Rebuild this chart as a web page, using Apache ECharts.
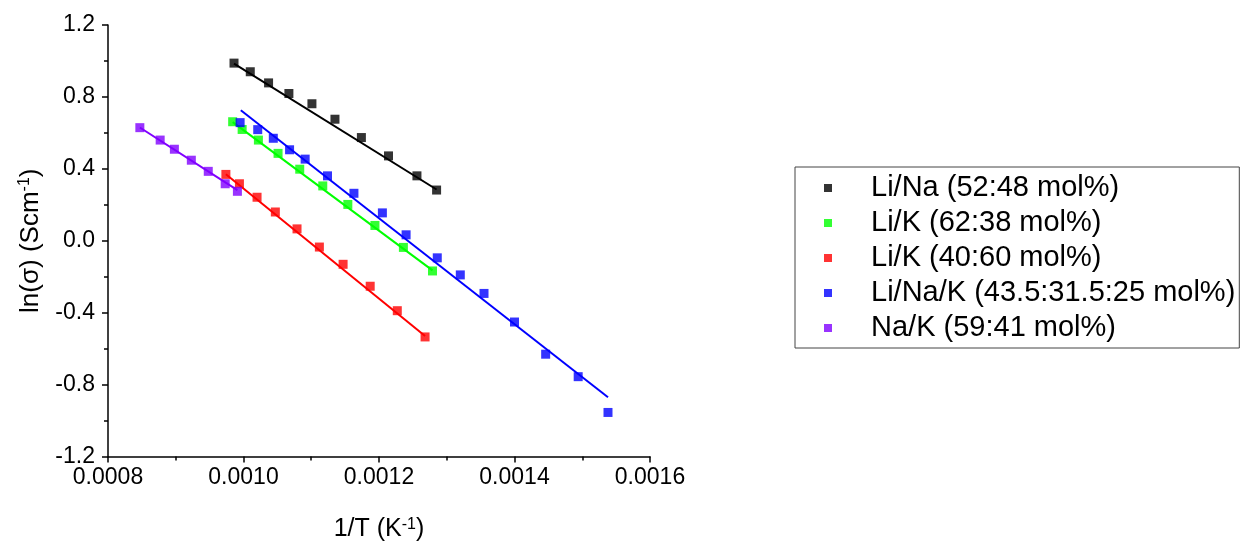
<!DOCTYPE html>
<html>
<head>
<meta charset="utf-8">
<script src="https://cdn.jsdelivr.net/npm/echarts@6/dist/echarts.min.js"></script>
<style>html,body{margin:0;padding:0;background:#fff}#c{width:1240px;height:547px}</style>
</head>
<body>
<div id="c"></div>
<script>
// Series names
const names = ['Li/Na (52:48 mol%)', 'Li/K (62:38 mol%)', 'Li/K (40:60 mol%)', 'Li/Na/K (43.5:31.5:25 mol%)', 'Na/K (59:41 mol%)'];
const colors = ['#000000', '#00ff00', '#ff0000', '#0000ff', '#8000ff'];

// Measured points: [1/T (K^-1), ln(sigma)]
const liNa = [[0.000986,0.988],[0.001010,0.940],[0.001037,0.878],[0.001067,0.819],[0.001101,0.762],[0.001135,0.676],[0.001174,0.574],[0.001214,0.472],[0.001256,0.361],[0.001285,0.282]];
const liK62 = [[0.000984,0.662],[0.000998,0.619],[0.001022,0.560],[0.001051,0.486],[0.001083,0.398],[0.001117,0.305],[0.001154,0.202],[0.001194,0.085],[0.001236,-0.037],[0.001279,-0.168]];
const liK40 = [[0.000974,0.369],[0.000994,0.317],[0.001020,0.242],[0.001047,0.160],[0.001079,0.066],[0.001112,-0.035],[0.001147,-0.131],[0.001187,-0.253],[0.001227,-0.389],[0.001268,-0.535]];
const liNaK = [[0.000995,0.657],[0.001021,0.618],[0.001044,0.570],[0.001068,0.506],[0.001091,0.454],[0.001124,0.361],[0.001163,0.264],[0.001205,0.155],[0.001240,0.033],[0.001286,-0.095],[0.001320,-0.190],[0.001355,-0.293],[0.001400,-0.452],[0.001446,-0.631],[0.001494,-0.756],[0.001538,-0.955]];
const naK = [[0.000847,0.629],[0.000877,0.560],[0.000898,0.509],[0.000923,0.448],[0.000948,0.386],[0.000973,0.317],[0.000991,0.275]];

// Linear-fit lines (endpoints)
const fitLiNa = [[0.000986,0.985],[0.001285,0.285]];
const fitLiK62 = [[0.000984,0.660],[0.001279,-0.165]];
const fitLiK40 = [[0.000974,0.370],[0.001268,-0.530]];
const fitLiNaK = [[0.000996,0.726],[0.001538,-0.870]];
const fitNaK = [[0.000847,0.630],[0.000991,0.282]];

// Axis ticks
const xTicks = [0.0008, 0.0010, 0.0012, 0.0014, 0.0016];
const yTicks = [-1.2, -0.8, -0.4, 0.0, 0.4, 0.8, 1.2];

const pts = [liNa, liK62, liK40, liNaK, naK];
const fits = [fitLiNa, fitLiK62, fitLiK40, fitLiNaK, fitNaK];
const FONT = "'Liberation Sans', Arial, sans-serif";

const series = [];
fits.forEach((d, i) => series.push({
  name: 'fit' + i, type: 'line', data: d, symbol: 'none', z: 2,
  lineStyle: {color: colors[i], width: 2}, silent: true, animation: false
}));
pts.forEach((d, i) => series.push({
  name: names[i], type: 'scatter', data: d, symbol: 'rect', symbolSize: 9, z: 3,
  itemStyle: {color: colors[i]}, animation: false
}));

const chart = echarts.init(document.getElementById('c'), null, {renderer: 'canvas'});
chart.setOption({
  backgroundColor: '#ffffff',
  animation: false,
  grid: {left: 108, right: 590, top: 25, bottom: 88},
  legend: {
    data: names, orient: 'vertical', left: 795, top: 167,
    padding: [6, 4, 5, 29], itemGap: 5,
    borderColor: '#444', borderWidth: 1,
    icon: 'rect', itemWidth: 8, itemHeight: 8,
    textStyle: {fontFamily: FONT, fontSize: 29, color: '#000', lineHeight: 30, padding: [0, 0, 0, 34]}
  },
  xAxis: {
    type: 'value', min: xTicks[0], max: xTicks[xTicks.length - 1], interval: 0.0002,
    name: '{a|1/T (K}{s|-1}{a|)}', nameLocation: 'middle', nameGap: 60,
    nameTextStyle: {rich: {a: {fontFamily: FONT, fontSize: 25, color: '#000'}, s: {fontFamily: FONT, fontSize: 16, color: '#000', verticalAlign: 'top', padding: [0, 0, 10, 0]}}},
    axisLine: {show: true, onZero: false, lineStyle: {color: '#000', width: 1.5}},
    axisTick: {show: true, inside: false, length: 6, lineStyle: {color: '#000', width: 1.5}},
    minorTick: {show: true, splitNumber: 2, length: 4, lineStyle: {color: '#000', width: 1.5}},
    splitLine: {show: false},
    axisLabel: {fontFamily: FONT, fontSize: 23, color: '#000', margin: 10,
      formatter: v => v.toFixed(4)}
  },
  yAxis: {
    type: 'value', min: yTicks[0], max: yTicks[yTicks.length - 1], interval: 0.4,
    name: '{a|ln(σ) (Scm}{s|-1}{a|)}', nameLocation: 'middle', nameGap: 64, nameRotate: 90,
    nameTextStyle: {rich: {a: {fontFamily: FONT, fontSize: 26, color: '#000'}, s: {fontFamily: FONT, fontSize: 16, color: '#000', verticalAlign: 'top', padding: [0, 0, 11, 0]}}},
    axisLine: {show: true, onZero: false, lineStyle: {color: '#000', width: 1.5}},
    axisTick: {show: true, inside: false, length: 6, lineStyle: {color: '#000', width: 1.5}},
    minorTick: {show: true, splitNumber: 2, length: 4, lineStyle: {color: '#000', width: 1.5}},
    splitLine: {show: false},
    axisLabel: {fontFamily: FONT, fontSize: 23, color: '#000', margin: 13,
      formatter: v => v.toFixed(1)}
  },
  series: series
});
</script>
</body>
</html>
